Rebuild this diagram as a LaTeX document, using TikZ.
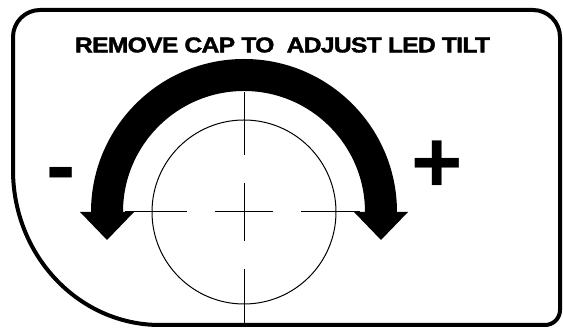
\documentclass[tikz,border=0pt]{standalone}
\usepackage{fontspec}
\setmainfont{Liberation Sans}
\newfontfamily\heavyfont[FakeBold=1.6,LetterSpace=-3]{Liberation Sans Bold}
\usepackage{graphicx}
\begin{document}
\begin{tikzpicture}[x=1pt,y=1pt,
  frame/.style={line width=4pt,line join=round},
  thin/.style={line width=1pt},
  sign/.style={inner sep=0pt,anchor=base,font=\fontsize{88}{88}\selectfont\bfseries}]
\useasboundingbox (0,0) rectangle (563,328);
\fill[white] (0,0) rectangle (563,328);
% frame
\draw[frame] (13,158) -- (13,291) .. controls (13,305.9) and (25.1,318) .. (40,318)
  -- (533,318) .. controls (547.9,318) and (560,305.9) .. (560,291)
  -- (560,18) .. controls (560,9.7) and (553.3,3) .. (545,3)
  -- (160,3) .. controls (78.8,3) and (13,72.4) .. (13,158) -- cycle;
% title
\node[inner sep=0pt] (title) at (282.5,283)
  {\resizebox{415pt}{15pt}{\heavyfont REMOVE CAP TO\ \ ADJUST LED TILT}};
% circle and crosshair
\coordinate (c) at (244,116);
\draw[thin] (c) circle[radius=92pt];
\draw[thin] (244,236) -- (244,173);
\draw[thin] (244,145) -- (244,87);
\draw[thin] (244,59) -- (244,3);
\draw[thin] (125,116) -- (187,116);
\draw[thin] (215,116) -- (273,116);
\draw[thin] (301,116) -- (360,116);
% curved double arrow
\fill[black] (107,88) -- (80,116) -- (91,116)
  arc[start angle=180,end angle=0,radius=153pt]
  -- (408,116) -- (381,88) -- (354,116) -- (365,116)
  arc[start angle=0,end angle=180,radius=121pt]
  -- (134,116) -- cycle;
% signs
\node[sign] (minus) at (61,132) {-};
\node[sign] (plus) at (437,135) {+};
\end{tikzpicture}
\end{document}
